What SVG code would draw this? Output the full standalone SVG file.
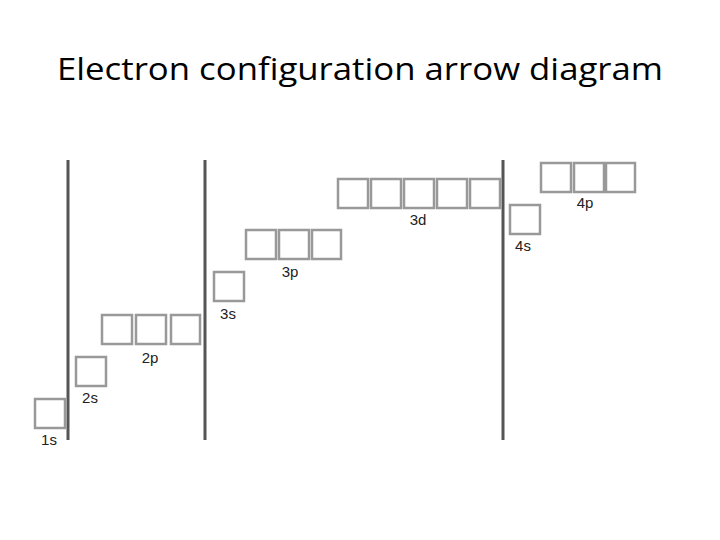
<svg xmlns="http://www.w3.org/2000/svg" width="720" height="540" viewBox="0 0 720 540">
<style>
.b{fill:#fff;stroke:#999;stroke-width:2.5}
.l{font-family:"Liberation Sans",Arial,sans-serif;font-size:15px;fill:#222;text-anchor:middle}
.v{stroke:#555;stroke-width:3}
</style>
<rect width="720" height="540" fill="#fff"/>
<text x="360" y="80" font-family="'Open Sans',sans-serif" font-size="31" fill="#000" text-anchor="middle" textLength="606" lengthAdjust="spacingAndGlyphs">Electron configuration arrow diagram</text>
<g id="dividers">
<line class="v" x1="68" y1="160" x2="68" y2="440"/>
<line class="v" x1="205" y1="160" x2="205" y2="440"/>
<line class="v" x1="503" y1="160" x2="503" y2="440"/>
</g>
<g id="n1s"><rect class="b" x="35" y="399" width="30" height="29"/><text class="l" x="49" y="445">1s</text></g>
<g id="n2s"><rect class="b" x="76" y="357" width="30" height="29"/><text class="l" x="90" y="403">2s</text></g>
<g id="n2p"><rect class="b" x="102" y="315" width="30" height="29"/><rect class="b" x="136" y="315" width="30" height="29"/><rect class="b" x="171" y="315" width="29" height="29"/><text class="l" x="150" y="363">2p</text></g>
<g id="n3s"><rect class="b" x="214" y="272" width="30" height="29"/><text class="l" x="228" y="319">3s</text></g>
<g id="n3p"><rect class="b" x="246" y="230" width="30" height="29"/><rect class="b" x="279" y="230" width="30" height="29"/><rect class="b" x="312" y="230" width="29" height="29"/><text class="l" x="290" y="277">3p</text></g>
<g id="n3d"><rect class="b" x="338" y="179" width="30" height="29"/><rect class="b" x="371" y="179" width="30" height="29"/><rect class="b" x="404" y="179" width="30" height="29"/><rect class="b" x="437" y="179" width="30" height="29"/><rect class="b" x="470" y="179" width="30" height="29"/><text class="l" x="418" y="225">3d</text></g>
<g id="n4s"><rect class="b" x="510" y="205" width="30" height="29"/><text class="l" x="523" y="251">4s</text></g>
<g id="n4p"><rect class="b" x="541" y="163" width="30" height="29"/><rect class="b" x="574" y="163" width="30" height="29"/><rect class="b" x="606" y="163" width="29" height="29"/><text class="l" x="585" y="208">4p</text></g>
<g id="connectors"/>
</svg>
